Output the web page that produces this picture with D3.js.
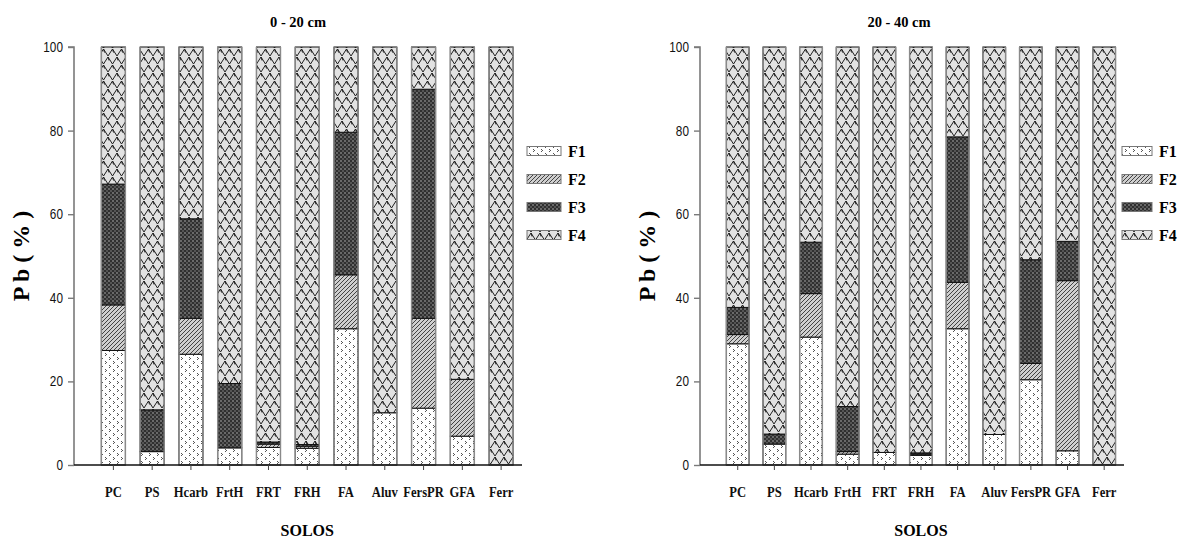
<!DOCTYPE html>
<html>
<head>
<meta charset="utf-8">
<script src="https://cdn.jsdelivr.net/npm/d3@7"></script>
<style>
  body { margin: 0; background: #fff; }
  svg { display: block; }
</style>
</head>
<body>
<svg id="chart" width="1184" height="541"></svg>
<script>
// Soil classes and Pb fractions (% of total Pb)
const soils = ["PC", "PS", "Hcarb", "FrtH", "FRT", "FRH", "FA", "Aluv", "FersPR", "GFA", "Ferr"];
const fractions = ["F1", "F2", "F3", "F4"];
const yTicks = [0, 20, 40, 60, 80, 100];

// 0 - 20 cm layer
const top_F1 = [27.4, 3.2, 26.5, 4.1, 4.2, 4.0, 32.6, 12.5, 13.6, 6.9, 0];
const top_F2 = [10.9, 0, 8.6, 0, 0.8, 0.5, 12.9, 0, 21.5, 13.6, 0];
const top_F3 = [28.9, 10.0, 23.8, 15.4, 0.5, 0.4, 34.1, 0, 54.8, 0, 0];

// 20 - 40 cm layer
const sub_F1 = [29.0, 5.0, 30.6, 2.6, 3.0, 2.3, 32.6, 7.3, 20.4, 3.4, 0];
const sub_F2 = [2.2, 0, 10.4, 0.6, 0, 0.3, 11.1, 0, 3.9, 40.7, 0];
const sub_F3 = [6.5, 2.4, 12.3, 10.8, 0, 0.3, 34.8, 0, 24.8, 9.4, 0];

const SERIF = "'Liberation Serif', 'Times New Roman', Times, 'Nimbus Roman', serif";
const NARROW = "'Liberation Sans Narrow', 'Arial Narrow', 'Liberation Sans', Arial, sans-serif";

const panels = [
  { title: "0 - 20 cm", f1: top_F1, f2: top_F2, f3: top_F3,
    axisX: 74, band: [94, 520.5], axisEnd: 522, titleX: 298,
    yLabelX: 29, legendX: 527, legendW: 34 },
  { title: "20 - 40 cm", f1: sub_F1, f2: sub_F2, f3: sub_F3,
    axisX: 700, band: [719.4, 1122.5], axisEnd: 1124, titleX: 899,
    yLabelX: 655, legendX: 1122, legendW: 30 }
];

const svg = d3.select("#chart");
const defs = svg.append("defs");

// ---- fill patterns for the four fractions ----
// F1: white with sparse specks
const p1 = defs.append("pattern").attr("id", "pat-F1").attr("patternUnits", "userSpaceOnUse")
  .attr("width", 8).attr("height", 8);
p1.append("rect").attr("width", 8).attr("height", 8).attr("fill", "#ffffff");
[[1,1,1,1],[2,2,1,1],[1,3,1,1],[5,5,1,1],[6,6,1,1],[5,7,1,1]].forEach(([x,y,w,h]) =>
  p1.append("rect").attr("x", x).attr("y", y).attr("width", w).attr("height", h).attr("fill", "#555"));

// F2: grey with diagonal hatching
const p2 = defs.append("pattern").attr("id", "pat-F2").attr("patternUnits", "userSpaceOnUse")
  .attr("width", 4).attr("height", 4);
p2.append("rect").attr("width", 4).attr("height", 4).attr("fill", "#cfcfcf");
p2.append("path").attr("d", "M-1,5 L5,-1 M-1,1 L1,-1 M3,5 L5,3")
  .attr("stroke", "#333").attr("stroke-width", 0.9);

// F3: dark checkered weave
const p3 = defs.append("pattern").attr("id", "pat-F3").attr("patternUnits", "userSpaceOnUse")
  .attr("width", 4).attr("height", 4);
p3.append("rect").attr("width", 4).attr("height", 4).attr("fill", "#303030");
p3.append("rect").attr("x", 0).attr("y", 0).attr("width", 2).attr("height", 2).attr("fill", "#6a6a6a");
p3.append("rect").attr("x", 2).attr("y", 2).attr("width", 2).attr("height", 2).attr("fill", "#555");

// F4: light grey with staggered chevron scales
const p4 = defs.append("pattern").attr("id", "pat-F4").attr("patternUnits", "userSpaceOnUse")
  .attr("width", 9).attr("height", 16);
p4.append("rect").attr("width", 9).attr("height", 16).attr("fill", "#e2e2e2");
p4.append("path")
  .attr("d", "M0,8 L4.5,1 L9,8 M4.5,1 L5.5,4.5 M-4.5,16 L0,9 L4.5,16 M0,9 L1,12.5 M4.5,16 L9,9 L13.5,16 M9,9 L10,12.5")
  .attr("fill", "none").attr("stroke", "#1e1e1e").attr("stroke-width", 1);

const y = d3.scaleLinear().domain([0, 100]).range([465, 47]);

panels.forEach(p => {
  const g = svg.append("g");
  const x = d3.scaleBand().domain(soils).range(p.band).paddingInner(0.38).paddingOuter(0.19);

  const rows = soils.map((s, i) => {
    const r = { soil: s, F1: p.f1[i], F2: p.f2[i], F3: p.f3[i] };
    r.F4 = Math.max(0, 100 - r.F1 - r.F2 - r.F3);
    return r;
  });
  const stacked = d3.stack().keys(fractions)(rows);

  // bars
  stacked.forEach(layer => {
    g.append("g").selectAll("rect").data(layer.filter(d => d[1] - d[0] > 0)).join("rect")
      .attr("x", d => x(d.data.soil))
      .attr("y", d => y(d[1]))
      .attr("width", x.bandwidth())
      .attr("height", d => y(d[0]) - y(d[1]))
      .attr("fill", `url(#pat-${layer.key})`)
      .attr("stroke", "#111").attr("stroke-width", 1);
  });
  // grey bar sides
  g.append("g").selectAll("rect").data(rows).join("rect")
    .attr("x", d => x(d.soil)).attr("y", y(100))
    .attr("width", x.bandwidth()).attr("height", y(0) - y(100))
    .attr("fill", "none").attr("stroke", "#8a8a8a").attr("stroke-width", 1.4)
    .attr("stroke-dasharray", d => `0 ${x.bandwidth()} ${y(0) - y(100)} ${x.bandwidth()} ${y(0) - y(100)}`);

  // y axis
  const yAxis = d3.axisLeft(y).tickValues(yTicks).tickSize(6).tickPadding(4);
  const ya = g.append("g").attr("transform", `translate(${p.axisX},0)`).call(yAxis)
    .attr("font-family", NARROW);
  ya.select(".domain").attr("stroke", "#7a7a7a").attr("stroke-width", 1.6).attr("d", `M-6,${y(100)}H0V${y(0)}`);
  ya.selectAll(".tick line").attr("stroke", "#7a7a7a").attr("stroke-width", 1.4);
  ya.selectAll(".tick text").style("font-family", NARROW).attr("font-size", 14).attr("fill", "#111")
    .attr("transform", "translate(-1,0) scale(0.84,1)").attr("x", -12);

  // x axis (condensed bold serif labels)
  const xAxis = d3.axisBottom(x).tickSize(5).tickPadding(0).tickFormat("");
  const xa = g.append("g").attr("transform", `translate(0,${y(0)})`).call(xAxis);
  xa.select(".domain").attr("stroke", "#111").attr("stroke-width", 1.6).attr("d", `M${p.axisX},0H${p.axisEnd}`);
  xa.selectAll(".tick line").attr("stroke", "#444");
  g.append("g").selectAll("text").data(soils).join("text")
    .attr("transform", d => `translate(${x(d) + x.bandwidth() / 2},${y(0) + 32}) scale(0.9,1)`)
    .attr("text-anchor", "middle")
    .style("font-family", SERIF).style("font-weight", "bold")
    .attr("font-size", 14).attr("fill", "#111").text(d => d);

  // titles
  g.append("text").style("font-family", SERIF).style("font-weight", "bold")
    .attr("x", p.titleX).attr("y", 27)
    .attr("text-anchor", "middle").attr("font-size", 14.5).text(p.title);
  const mid = (x(soils[0]) + x(soils[soils.length - 1]) + x.bandwidth()) / 2;
  g.append("text").style("font-family", SERIF).style("font-weight", "bold")
    .attr("x", mid).attr("y", 536)
    .attr("text-anchor", "middle").attr("font-size", 16).text("SOLOS");
  g.append("text").style("font-family", SERIF).style("font-weight", "bold")
    .attr("transform", `translate(${p.yLabelX},${(y(0) + y(100)) / 2}) rotate(-90)`)
    .attr("text-anchor", "middle").attr("font-size", 24)
    .text("P b  ( % )");

  // legend
  const lg = g.append("g");
  fractions.forEach((f, i) => {
    const cy = 151 + i * 28;
    lg.append("rect").attr("x", p.legendX).attr("y", cy - 4.5).attr("width", p.legendW).attr("height", 9)
      .attr("fill", `url(#pat-${f})`).attr("stroke", "#777").attr("stroke-width", 1);
    lg.append("text").style("font-family", SERIF).style("font-weight", "bold")
      .attr("x", p.legendX + p.legendW + 7).attr("y", cy + 5.5)
      .attr("font-size", 16).text(f);
  });
});
</script>
</body>
</html>
